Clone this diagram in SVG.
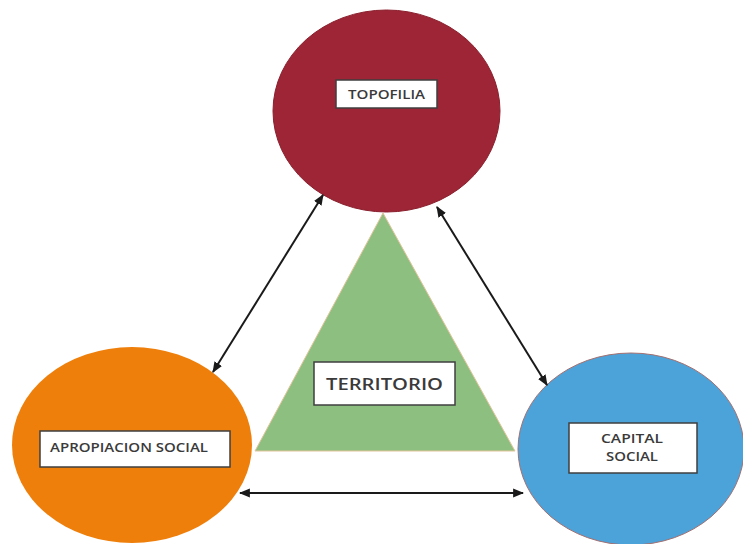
<svg xmlns="http://www.w3.org/2000/svg" width="743" height="544" viewBox="0 0 743 544">
<style>
.lbl{fill:#fff;stroke:#3f3f3f;stroke-width:1.5}
.t{font-family:"Open Sans","Liberation Sans",sans-serif;font-weight:600;fill:#3a3a3a;text-anchor:middle}
.con{stroke:#1a1a1a;stroke-width:2;fill:none;marker-start:url(#ah);marker-end:url(#ah)}
</style>
<defs>
<marker id="ah" viewBox="0 0 10 10" refX="9" refY="5" markerWidth="5.5" markerHeight="5.5" orient="auto-start-reverse" markerUnits="strokeWidth">
<path d="M0,1 L10,5 L0,9 z" fill="#1a1a1a"/>
</marker>
</defs>
<rect width="743" height="544" fill="#fff"/>
<g id="territorio">
<polygon points="383,213 255,451 515,451" fill="#8DBF80" stroke="#E2C49A" stroke-width="1"/>
<rect class="lbl" x="314" y="362" width="141" height="43"/>
<text class="t" x="384.5" y="390" font-size="17" textLength="117" lengthAdjust="spacingAndGlyphs">TERRITORIO</text>
</g>
<g id="topofilia">
<ellipse cx="386.5" cy="111" rx="113.5" ry="101" fill="#9D2535" stroke="#8a1f2d" stroke-width="1"/>
<rect class="lbl" x="336" y="80" width="101" height="28"/>
<text class="t" x="386.5" y="98.5" font-size="12.5" textLength="77" lengthAdjust="spacingAndGlyphs">TOPOFILIA</text>
</g>
<g id="apropiacion">
<ellipse cx="132" cy="445" rx="120" ry="98" fill="#EF7F0B"/>
<rect class="lbl" x="40" y="431" width="190" height="36"/>
<text class="t" x="129" y="452" font-size="12.5" textLength="158" lengthAdjust="spacingAndGlyphs">APROPIACION SOCIAL</text>
</g>
<g id="capital">
<ellipse cx="631" cy="449" rx="113" ry="96" fill="#4BA3D9" stroke="#A57070" stroke-width="1"/>
<rect class="lbl" x="569" y="423" width="128" height="50"/>
<text class="t" x="632" y="443" font-size="12.5" textLength="62" lengthAdjust="spacingAndGlyphs">CAPITAL</text>
<text class="t" x="632" y="461" font-size="12.5" textLength="52" lengthAdjust="spacingAndGlyphs">SOCIAL</text>
</g>
<g id="connectors">
<line class="con" x1="213" y1="372" x2="323" y2="195"/>
<line class="con" x1="437" y1="207" x2="547" y2="385"/>
<line class="con" x1="240" y1="493" x2="523" y2="493"/>
</g>
</svg>
